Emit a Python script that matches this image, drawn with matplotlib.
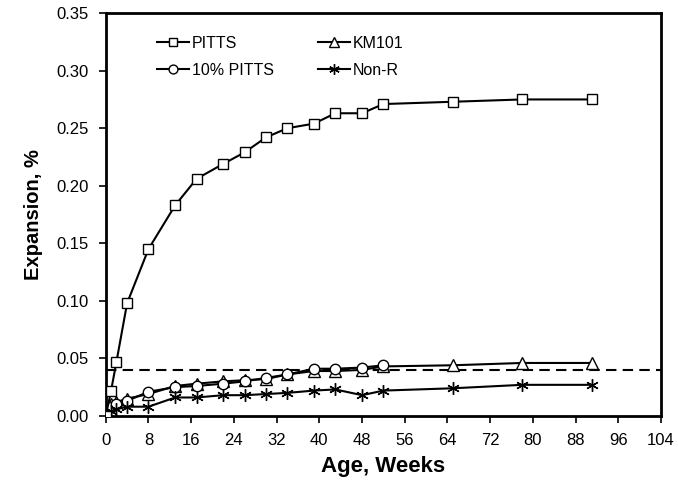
import matplotlib
matplotlib.use("Agg")
import matplotlib.pyplot as plt

plt.rcParams['font.family'] = ['Liberation Sans', 'DejaVu Sans']

weeks = [0, 1, 2, 4, 8, 13, 17, 22, 26, 30, 34, 39, 43, 48, 52, 65, 78, 91]
weeks_10 = weeks[:15]

pitts = [0.0, 0.022, 0.047, 0.098, 0.145, 0.183, 0.206, 0.219, 0.229,
         0.242, 0.250, 0.254, 0.263, 0.263, 0.271, 0.273, 0.275, 0.275]
km101 = [0.0, 0.010, 0.012, 0.015, 0.019, 0.026, 0.028, 0.030, 0.031,
         0.032, 0.036, 0.039, 0.039, 0.040, 0.043, 0.044, 0.046, 0.046]
pitts10 = [0.0, 0.008, 0.010, 0.013, 0.021, 0.025, 0.026, 0.028, 0.030,
           0.033, 0.036, 0.041, 0.041, 0.042, 0.044]
non_r = [0.0, 0.004, 0.006, 0.008, 0.008, 0.016, 0.016, 0.018, 0.018,
         0.019, 0.020, 0.022, 0.023, 0.018, 0.022, 0.024, 0.027, 0.027]

limit = 0.04

fig = plt.figure(figsize=(6.78, 4.87), dpi=100)
ax = fig.add_axes([0.156, 0.146, 0.819, 0.827])

common = dict(color='black', lw=1.5, mfc='white', mec='black', mew=1.0)
ax.plot(weeks, pitts, marker='s', ms=7.5, label='PITTS', **common, zorder=4)
ax.plot(weeks, km101, marker='^', ms=8, label='KM101', **common, zorder=3)
ax.plot(weeks_10, pitts10, marker='o', ms=7.5, label='10% PITTS', **common, zorder=3)
ax.plot(weeks, non_r, marker=(6, 2, 0), ms=9, label='Non-R', **common, zorder=3)
ax.axhline(limit, color='black', lw=1.5, ls=(0, (5, 3)), zorder=2)

ax.set_xlim(0, 104)
ax.set_ylim(0, 0.35)
ax.set_xticks(range(0, 105, 8))
ax.set_yticks([i * 0.05 for i in range(8)])
ax.set_yticklabels([f"{i * 0.05:.2f}" for i in range(8)])

for s in ax.spines.values():
    s.set_linewidth(2)
ax.tick_params(direction='out', length=5, width=1.2, labelsize=12, pad=7)

ax.set_xlabel('Age, Weeks', fontsize=16, fontweight='bold', labelpad=6)
ax.set_ylabel('Expansion, %', fontsize=14.5, fontweight='bold', labelpad=10)

handles, labels = ax.get_legend_handles_labels()
order = [0, 2, 1, 3]
ax.legend([handles[i] for i in order], [labels[i] for i in order],
          ncol=2, frameon=False, fontsize=11.5, loc='upper left',
          bbox_to_anchor=(0.067, 0.98), handlelength=2.0, handletextpad=0.15,
          columnspacing=2.8, labelspacing=0.75, markerscale=0.85)

fig.savefig('out.png', dpi=100)
